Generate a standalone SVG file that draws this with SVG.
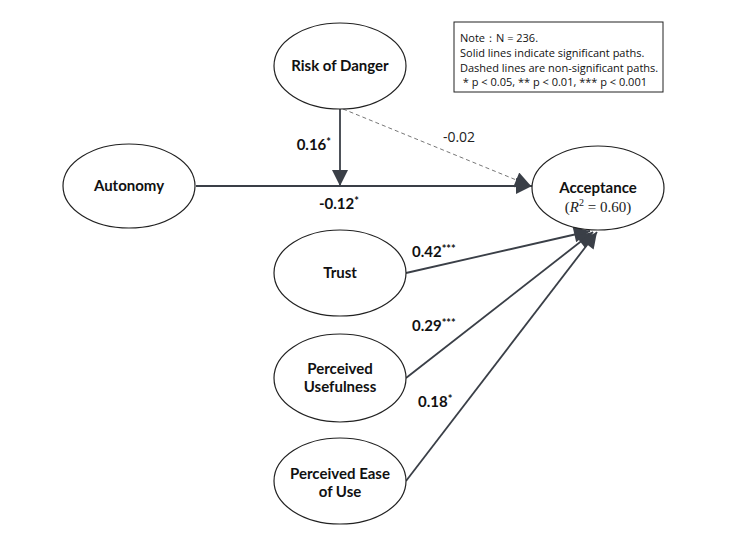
<svg xmlns="http://www.w3.org/2000/svg" width="750" height="538" viewBox="0 0 750 538">
<style>
.node ellipse{fill:#fff;stroke:#222;stroke-width:1.2}
.lbl{font-family:Lato,"Open Sans",sans-serif;font-weight:bold;font-size:15px;fill:#111;text-anchor:middle}
.coef{font-family:Lato,"Open Sans",sans-serif;font-weight:bold;font-size:15px;fill:#111}
.sup{font-size:11px}
.edge{stroke:#3a3f47;stroke-width:1.8;fill:none}
.dash{stroke:#777;stroke-width:1;stroke-dasharray:4,3;fill:none}
.note{font-family:"Open Sans","Noto Sans",sans-serif;font-size:11px;fill:#111}
</style>
<defs>
<marker id="ahb" viewBox="0 0 10 10" refX="10" refY="5" markerWidth="18" markerHeight="16" markerUnits="userSpaceOnUse" orient="auto">
<path d="M0,0 L10,5 L0,10 z" fill="#3a3f47"/>
</marker>
</defs>
<rect width="750" height="538" fill="#fff"/>
<g id="connectors">
<line class="dash" x1="343" y1="109" x2="531" y2="186" marker-end="url(#ahb)"/>
<line class="edge" x1="196" y1="186" x2="532" y2="186" marker-end="url(#ahb)"/>
<line class="edge" x1="340" y1="109" x2="340" y2="186" marker-end="url(#ahb)"/>
<line class="edge" x1="406" y1="273" x2="590" y2="231" marker-end="url(#ahb)"/>
<line class="edge" x1="406" y1="378" x2="593" y2="232" marker-end="url(#ahb)"/>
<line class="edge" x1="406" y1="481" x2="597" y2="232" marker-end="url(#ahb)"/>
<text class="coef" x="331" y="150" text-anchor="end">0.16<tspan class="sup" dy="-4">*</tspan></text>
<text class="coef" x="339" y="209" text-anchor="middle">-0.12<tspan class="sup" dy="-4">*</tspan></text>
<text x="459" y="142" text-anchor="middle" style="font-family:'Open Sans','Noto Sans',sans-serif;font-size:14px;fill:#222">-0.02</text>
<text class="coef" x="412" y="257">0.42<tspan class="sup" dy="-4">***</tspan></text>
<text class="coef" x="412" y="331">0.29<tspan class="sup" dy="-4">***</tspan></text>
<text class="coef" x="418" y="407">0.18<tspan class="sup" dy="-4">*</tspan></text>
</g>
<g id="risk" class="node"><ellipse cx="340" cy="66" rx="66" ry="43"/><text class="lbl" x="340" y="71">Risk of Danger</text></g>
<g id="autonomy" class="node"><ellipse cx="129" cy="186" rx="66" ry="42"/><text class="lbl" x="129" y="191">Autonomy</text></g>
<g id="acceptance" class="node"><ellipse cx="598" cy="188" rx="66" ry="42"/><text class="lbl" x="598" y="193">Acceptance</text>
<text x="598" y="212" text-anchor="middle" style="font-family:'Liberation Serif',serif;font-size:15px;fill:#222">(<tspan font-style="italic">R</tspan><tspan font-size="10" dy="-6">2</tspan><tspan dy="6"> = 0.60)</tspan></text></g>
<g id="trust" class="node"><ellipse cx="340" cy="273" rx="66" ry="43"/><text class="lbl" x="340" y="278">Trust</text></g>
<g id="pu" class="node"><ellipse cx="340" cy="378" rx="66" ry="44"/><text class="lbl" x="340" y="374">Perceived</text><text class="lbl" x="340" y="392">Usefulness</text></g>
<g id="peou" class="node"><ellipse cx="340" cy="481" rx="66" ry="43"/><text class="lbl" x="340" y="479">Perceived Ease</text><text class="lbl" x="340" y="497">of Use</text></g>
<g id="note">
<rect x="454" y="22" width="209" height="70" fill="#fff" stroke="#222" stroke-width="1"/>
<text class="note" x="460" y="42">Note：N = 236.</text>
<text class="note" x="460" y="57">Solid lines indicate significant paths.</text>
<text class="note" x="460" y="72">Dashed lines are non-significant paths.</text>
<text class="note" x="460" y="86" xml:space="preserve"> * p &lt; 0.05, ** p &lt; 0.01, *** p &lt; 0.001</text>
</g>
</svg>
